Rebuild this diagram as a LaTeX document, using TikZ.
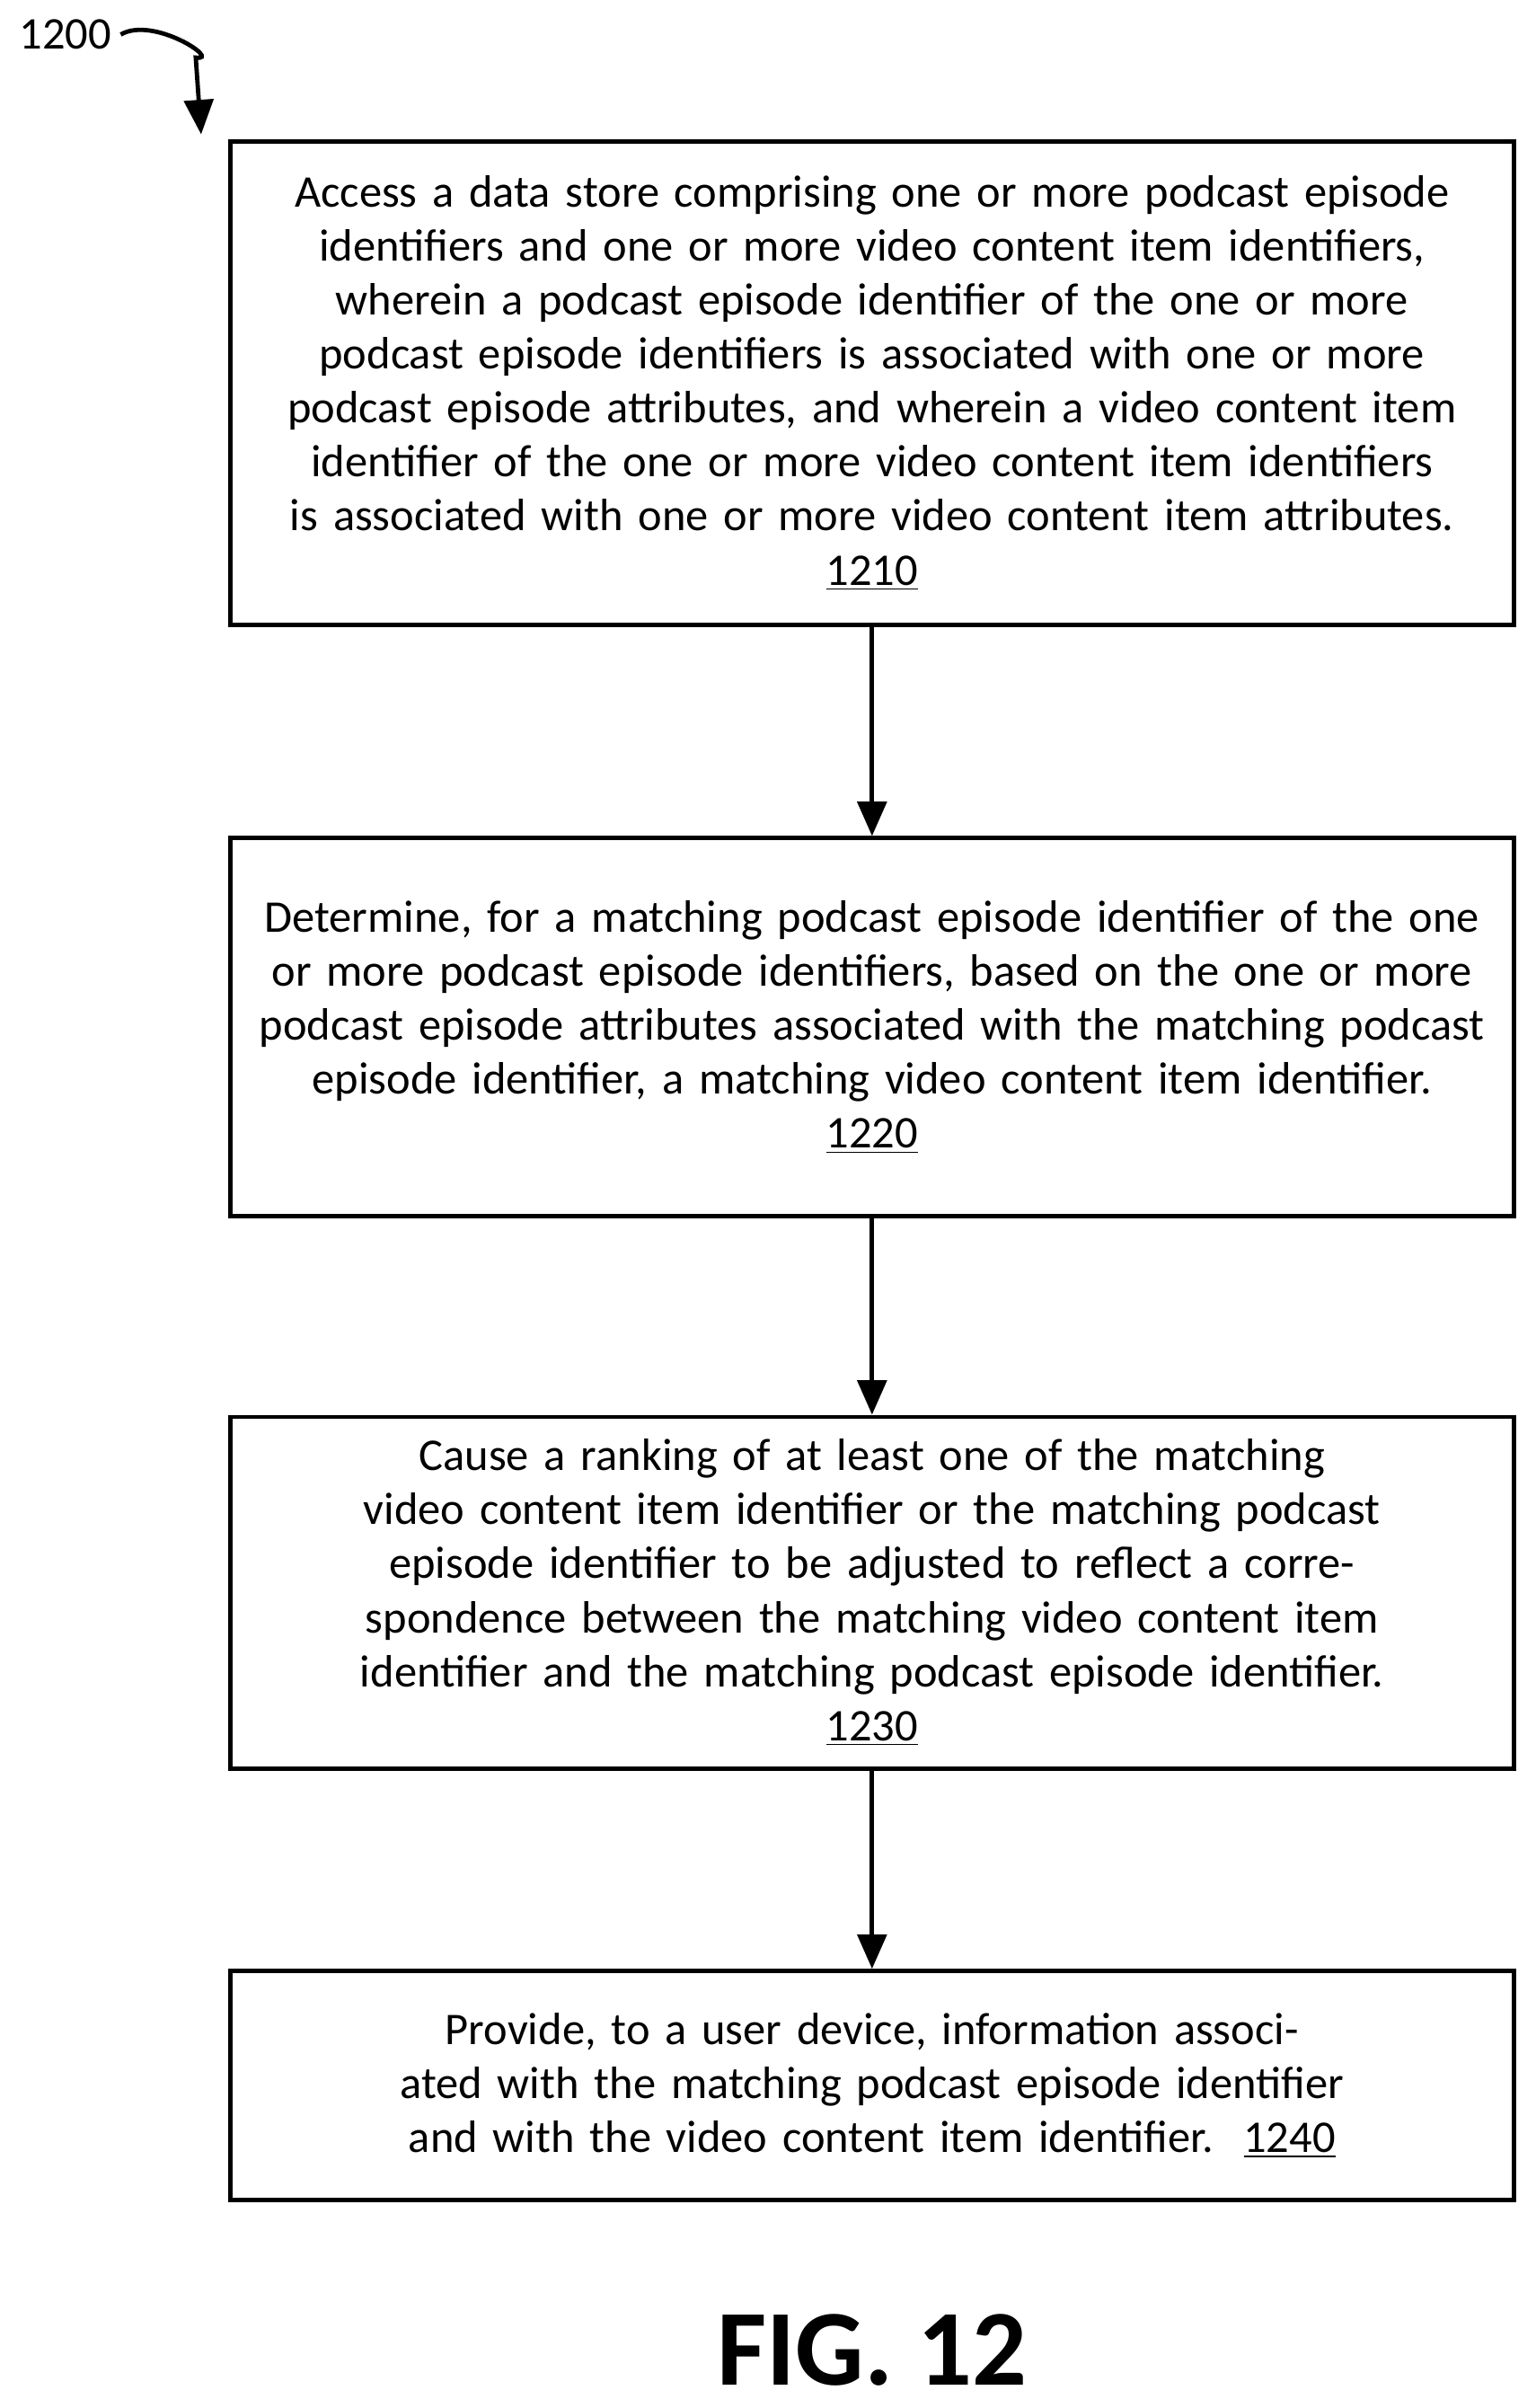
\documentclass[tikz,border=0pt]{standalone}
\usepackage{fontspec}
\setmainfont{Carlito}
\usetikzlibrary{positioning,arrows.meta}

\tikzset{
  stepbox/.style={draw, line width=1.6pt, align=center, text width=16.2cm,
    minimum width=16.72cm, inner sep=0pt,
    font=\fontsize{16.8pt}{20pt}\selectfont},
  flow/.style={-{Triangle[length=0.45cm,width=0.38cm]}, line width=1.6pt}
}

\begin{document}
\begin{tikzpicture}
\useasboundingbox (0,0) rectangle (20,-31.36);

% label and hook arrow
\node (fig) at (0.85,-0.45) {\fontsize{16.8pt}{20pt}\selectfont 1200};
\coordinate (hook) at (2.62,-1.75);
\draw[flow] (fig.east) .. controls (2.0,-0.2) and (2.9,-0.8) .. (2.55,-0.75) -- (hook);

% steps
\node[stepbox, minimum height=6.3cm] (s1) at (11.36,-4.99)
  {Access a data store comprising one or more podcast episode identifiers and one or more video content item identifiers, wherein a podcast episode identifier of the one or more podcast episode identifiers is associated with one or more podcast episode attributes, and wherein a video content item identifier of the one or more video content item identifiers is associated with one or more video content item attributes.\\ \underline{1210}};
\node[stepbox, minimum height=4.92cm, below=2.72cm of s1] (s2)
  {Determine, for a matching podcast episode identifier of the one or more podcast episode identifiers, based on the one or more podcast episode attributes associated with the matching podcast episode identifier, a matching video content item identifier.\\ \underline{1220}};
\node[stepbox, minimum height=4.58cm, below=2.56cm of s2] (s3)
  {Cause a ranking of at least one of the matching video content item identifier or the matching podcast episode identifier to be adjusted to reflect a correspondence between the matching video content item identifier and the matching podcast episode identifier.\\ \underline{1230}};
\node[stepbox, minimum height=2.98cm, below=2.58cm of s3] (s4)
  {Provide, to a user device, information associated with the matching podcast episode identifier and with the video content item identifier.~~\underline{1240}};

% connectors
\draw[flow] (s1) -- (s2);
\draw[flow] (s2) -- (s3);
\draw[flow] (s3) -- (s4);

\node[font=\fontsize{40pt}{44pt}\selectfont\bfseries] (title) at (11.36,-30.6) {FIG. 12};
\end{tikzpicture}
\end{document}
